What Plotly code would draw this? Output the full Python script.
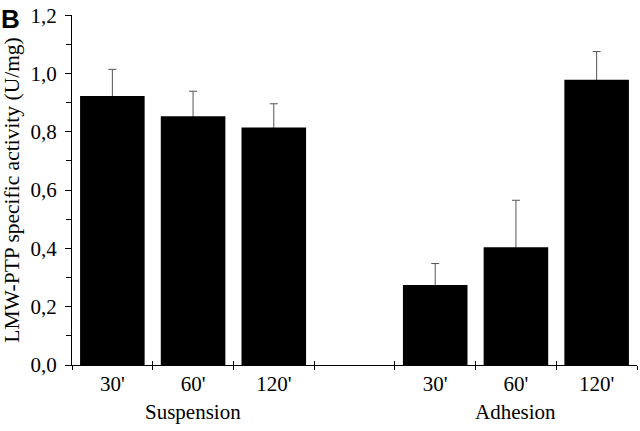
import plotly.graph_objects as go

# ---- data ----
groups = ["Suspension", "Adhesion"]
times = ["30'", "60'", "120'"]
suspension_values = [0.923, 0.853, 0.815]
suspension_errors = [0.091, 0.086, 0.081]
adhesion_values = [0.274, 0.404, 0.978]
adhesion_errors = [0.074, 0.161, 0.097]
y_ticks = [0.0, 0.2, 0.4, 0.6, 0.8, 1.0, 1.2]
y_title = "LMW-PTP specific activity (U/mg)"
panel_label = "B"

# ---- build category layout (with an empty slot between the groups) ----
gap = "gap"
cats, labels, vals, errs = [], [], [], []
for gi, (g, v_list, e_list) in enumerate(zip(groups,
                                             [suspension_values, adhesion_values],
                                             [suspension_errors, adhesion_errors])):
    if gi > 0:
        cats.append(gap); labels.append(""); vals.append(None); errs.append(None)
    for t, v, e in zip(times, v_list, e_list):
        cats.append(f"{g} {t}"); labels.append(t); vals.append(v); errs.append(e)

FONT = "Liberation Serif"
FS = 21
fig = go.Figure()

# transparent bars carrying the error bars (drawn first, so black bars hide the lower half)
fig.add_trace(go.Bar(
    x=cats, y=vals, width=0.8,
    marker=dict(color="rgba(0,0,0,0)", line=dict(width=0)),
    error_y=dict(type="data", array=errs, symmetric=True, color="#555555",
                 thickness=1, width=4),
    showlegend=False, hoverinfo="skip"))
fig.add_trace(go.Bar(
    x=cats, y=vals, width=0.8,
    marker=dict(color="black", line=dict(width=0)),
    showlegend=False))
# dummy trace for the inside half of the crossing x ticks
fig.add_trace(go.Scatter(x=cats, y=[None] * len(cats), xaxis="x2",
                         mode="markers", showlegend=False, hoverinfo="skip"))

xcommon = dict(type="category", categoryorder="array", categoryarray=cats,
               range=[-0.5, len(cats) - 0.5], tickson="boundaries",
               tickvals=cats, ticktext=labels, showgrid=False, zeroline=False)

fig.update_layout(
    width=640, height=431,
    margin=dict(l=72, r=3, t=10, b=66),
    paper_bgcolor="white", plot_bgcolor="white",
    barmode="overlay", separators=", ",
    font=dict(family=FONT, size=FS, color="black"),
    xaxis=dict(**xcommon, showline=True, linecolor="black", linewidth=1.2,
               ticks="outside", ticklen=4, tickwidth=1.2, tickcolor="black",
               tickfont=dict(family=FONT, size=FS)),
    xaxis2=dict(**xcommon, overlaying="x", anchor="y", side="bottom",
                showline=False, ticks="inside", ticklen=4, tickwidth=1.2,
                tickcolor="black", showticklabels=False),
    yaxis=dict(range=[0, 1.2005], tickvals=y_ticks, tickformat=".1f",
               showline=True, linecolor="black", linewidth=1.2,
               ticks="outside", ticklen=6, tickwidth=1.2, tickcolor="black",
               minor=dict(ticks="outside", dtick=0.1, ticklen=5, tickwidth=1.2,
                          tickcolor="black", showgrid=False),
               showgrid=False, zeroline=False, ticklabeloverflow="allow",
               ticklabelstandoff=4,
               tickfont=dict(family=FONT, size=FS),
               title=dict(text=y_title, font=dict(family=FONT, size=21.5), standoff=8)),
)

# group labels under the middle category of each group
for g in groups:
    fig.add_annotation(x=f"{g} {times[1]}", xref="x", y=0, yref="paper",
                       yshift=-47, yanchor="middle", text=g, showarrow=False,
                       font=dict(family=FONT, size=FS))

fig.add_annotation(x=-72 / 565, xref="paper", y=1 + 10 / 355, yref="paper",
                   xanchor="left", yanchor="top", text=f"<b>{panel_label}</b>",
                   showarrow=False, xshift=-1, yshift=3,
                   font=dict(family="Liberation Sans", size=26))

fig.write_html("out.html", config={"displayModeBar": False},
               post_script="document.body.style.margin='0';")
